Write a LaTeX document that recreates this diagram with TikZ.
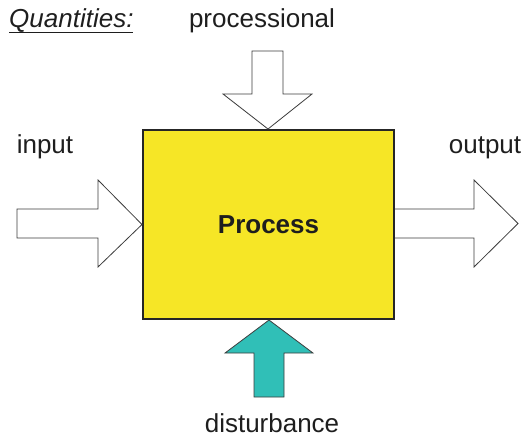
\documentclass[tikz,border=0pt]{standalone}
\usepackage{fontspec}
\setmainfont{Liberation Sans}
\definecolor{procyellow}{RGB}{246,230,38}
\definecolor{distteal}{RGB}{48,191,183}
\definecolor{edgegray}{RGB}{60,60,60}
\definecolor{txt}{RGB}{30,30,30}
\begin{document}
\begin{tikzpicture}[x=1pt,y=-1pt,
  lbl/.style={anchor=base,inner sep=0pt,text=txt,font=\fontsize{26}{30}\selectfont},
  procbox/.style={draw=black!85,line width=2pt,fill=procyellow},
  hollowarrow/.style={draw=edgegray,line width=0.8pt,fill=white,line join=miter},
  tealarrow/.style={draw=edgegray,line width=0.8pt,fill=distteal,line join=miter}]
\useasboundingbox (0,0) rectangle (526,439);
% process box
\node[procbox,minimum width=251pt,minimum height=189pt,anchor=north west,inner sep=0pt] (proc) at (142,129) {};
\node[lbl,font=\fontsize{26}{30}\selectfont\bfseries,anchor=center] (proct) at (proc.center) {Process};
% input arrow
\draw[hollowarrow] (17,209) -- (98,209) -- (98,180) -- (proc.west) -- (98,267) -- (98,238) -- (17,238) -- cycle;
% output arrow
\draw[hollowarrow] (proc.east |- 0,209) -- (474,209) -- (474,180) -- (518,223.5) -- (474,267) -- (474,238) -- (proc.east |- 0,238);
% processional arrow
\draw[hollowarrow] (252,51) -- (283,51) -- (283,94) -- (312,94) -- (proc.north -| 268,0) -- (223,94) -- (252,94) -- cycle;
% disturbance arrow
\draw[tealarrow] (254,397) -- (284,397) -- (284,353) -- (313,353) -- (proc.south -| 269,0) -- (225,353) -- (254,353) -- cycle;
% labels
\node[lbl,font=\fontsize{26}{30}\selectfont\itshape,anchor=base west] (qty) at (9,27) {Quantities:};
\draw[txt,line width=1pt] (9,32.5) -- (133,32.5);
\node[lbl] (procl) at (262,27) {processional};
\node[lbl] (inl) at (45,153) {input};
\node[lbl] (outl) at (485,153) {output};
\node[lbl] (distl) at (272,432) {disturbance};
\end{tikzpicture}
\end{document}
